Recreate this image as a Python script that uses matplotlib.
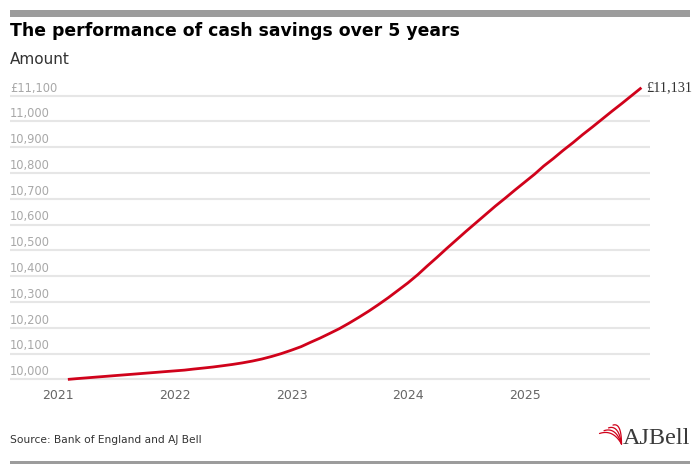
import matplotlib
matplotlib.use("Agg")
import matplotlib.pyplot as plt
import matplotlib.dates as mdates
from matplotlib.patches import Rectangle
import numpy as np
import pandas as pd

# ---------------- data ----------------
months = pd.date_range("2021-01-31", periods=60, freq="ME")
savings = [
    10000, 10003, 10006, 10009, 10012, 10015, 10018, 10021, 10024, 10027,
    10030, 10033, 10036, 10040, 10044, 10048, 10053, 10058, 10064, 10071,
    10079, 10089, 10100, 10113, 10127, 10143, 10160, 10178, 10197, 10218,
    10241, 10265, 10290, 10317, 10345, 10374, 10406, 10439, 10473, 10507,
    10541, 10574, 10607, 10640, 10672, 10703, 10734, 10765, 10796, 10827,
    10857, 10888, 10918, 10949, 10979, 11010, 11040, 11070, 11100, 11131,
]
y_ticks = [10000, 10100, 10200, 10300, 10400, 10500, 10600, 10700, 10800, 10900, 11000, 11100]
y_tick_labels = ["10,000", "10,100", "10,200", "10,300", "10,400", "10,500",
                 "10,600", "10,700", "10,800", "10,900", "11,000", "£11,100"]
x_tick_dates = pd.to_datetime(["2021-01-01", "2022-01-01", "2023-01-01", "2024-01-01", "2025-01-01"])
x_tick_labels = ["2021", "2022", "2023", "2024", "2025"]
title = "The performance of cash savings over 5 years"
subtitle = "Amount"
source = "Source: Bank of England and AJ Bell"
end_label = "£11,131"

# ---------------- layout ----------------
W, H = 700, 474
fig = plt.figure(figsize=(W / 100, H / 100), dpi=100)
fig.patch.set_facecolor("white")

def fx(px):
    return px / W

def fy(py):
    return 1 - py / H

# decoration overlay in pixel coordinates
deco = fig.add_axes([0, 0, 1, 1], zorder=0)
deco.set_xlim(0, W)
deco.set_ylim(H, 0)
deco.axis("off")
deco.add_patch(Rectangle((10, 10), 680, 6.5, color="#9c9c9c", lw=0))
deco.add_patch(Rectangle((10, 460.7), 680, 3.6, color="#9c9c9c", lw=0))

# logo swoosh
for k in range(4):
    t = np.linspace(0, 1, 40)
    p0 = np.array([599.5 + 4.5 * k, 433.5 - 2.8 * k])
    p1 = np.array([613 + 2.8 * k, 429 - 2.2 * k])
    p2 = np.array([621.5, 444])
    pts = ((1 - t) ** 2)[:, None] * p0 + (2 * (1 - t) * t)[:, None] * p1 + (t ** 2)[:, None] * p2
    deco.plot(pts[:, 0], pts[:, 1], color="#d0021b", lw=0.9, solid_capstyle="round")
deco.text(623, 443.5, "AJBell", family="Liberation Serif", fontsize=17.5,
          color="#3a3a3a", ha="left", va="baseline")

# texts
fig.text(fx(10), fy(36.5), title, fontsize=12.4, fontweight="bold", color="#000000",
         ha="left", va="baseline")
fig.text(fx(10), fy(64), subtitle, fontsize=11, color="#333333", ha="left", va="baseline")
fig.text(fx(10), fy(443), source, fontsize=7.7, color="#333333", ha="left", va="baseline")

# main axes
px_top, px_bot = 95.7, 379.4  # pixel rows of 11,100 and 10,000
per_unit = (px_bot - px_top) / 1100.0
y_lo, y_hi = 9990, 11110
ax_top = px_top - (y_hi - 11100) * per_unit
ax_bot = px_bot + (10000 - y_lo) * per_unit
ax = fig.add_axes([fx(10), fy(ax_bot), 640 / W, (ax_bot - ax_top) / H], zorder=2)
ax.set_facecolor("none")
ax.set_ylim(y_lo, y_hi)

x0 = mdates.date2num(pd.Timestamp("2021-01-01"))
days_per_px = 365.25 / 116.7
ax.set_xlim(x0 - 48.3 * days_per_px, x0 + 591.7 * days_per_px)

for s in ax.spines.values():
    s.set_visible(False)
ax.set_yticks([])
for v, lab in zip(y_ticks, y_tick_labels):
    ax.axhline(v, color="#e6e6e6", lw=1.5, zorder=1)
    ax.annotate(lab, xy=(0, v), xycoords=("axes fraction", "data"),
                xytext=(0, 3), textcoords="offset points",
                ha="left", va="baseline", fontsize=8.3, color="#a8a8a8")

ax.set_xticks(mdates.date2num(x_tick_dates))
ax.set_xticklabels(x_tick_labels)
ax.tick_params(axis="x", length=0, pad=5.3, labelsize=9, labelcolor="#666666")

ax.plot(months, savings, color="#d0021b", lw=2.0, zorder=3, clip_on=False,
        solid_capstyle="butt")
ax.annotate(end_label, xy=(mdates.date2num(months[-1]), savings[-1]),
            xytext=(3.6, 0), textcoords="offset points", ha="left", va="center",
            family="Liberation Serif", fontsize=10.3, color="#333333",
            annotation_clip=False)

fig.savefig("out.png", dpi=100, facecolor="white")
